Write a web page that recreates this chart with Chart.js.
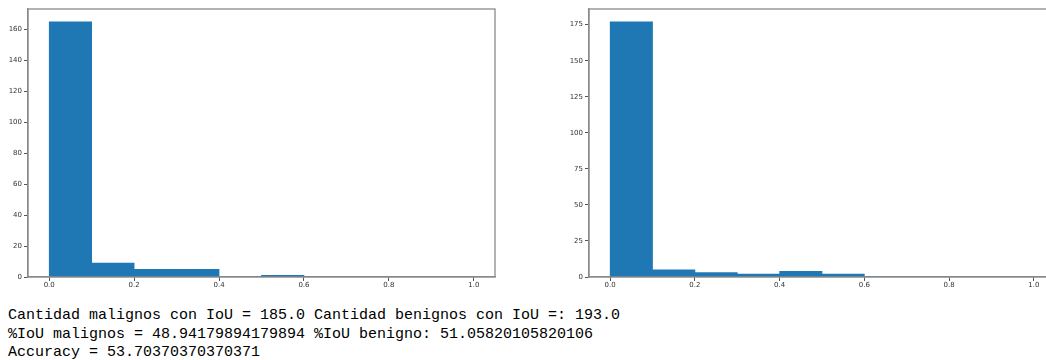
<!DOCTYPE html>
<html>
<head>
<meta charset="utf-8">
<script src="https://cdn.jsdelivr.net/npm/chart.js@4.4.1/dist/chart.umd.min.js"></script>
<style>
  html, body { margin: 0; padding: 0; background: #fff; width: 1046px; height: 360px; overflow: hidden; }
  #wrap { position: relative; width: 1046px; height: 360px; overflow: hidden; }
  canvas { position: absolute; top: 0; }
  #c1 { left: 0; }
  #c2 { left: 561px; }
  #out {
    position: absolute; left: 8px; top: 307px;
    font-family: "Liberation Mono", "DejaVu Sans Mono", monospace;
    font-size: 15px; line-height: 18.5px; color: #000; white-space: pre;
  }
</style>
</head>
<body>
<div id="wrap">
  <canvas id="c1" width="500" height="290"></canvas>
  <canvas id="c2" width="499" height="290"></canvas>
  <div id="out"></div>
</div>
<script>
// Histogram bins: lower edges, each 0.1 wide, covering IoU 0..1
const binEdges = [0.0, 0.1, 0.2, 0.3, 0.4, 0.5, 0.6, 0.7, 0.8, 0.9];
const binWidth = 0.1;

// Counts per bin
const malignosCounts = [165, 9, 5, 5, 0, 1, 0, 0, 0, 0];
const benignosCounts = [177, 5, 3, 2, 4, 2, 0, 0, 0, 0];

// Tick labels
const xTickValues = [0.0, 0.2, 0.4, 0.6, 0.8, 1.0];
const yTicksMalignos = [0, 20, 40, 60, 80, 100, 120, 140, 160];
const yTicksBenignos = [0, 25, 50, 75, 100, 125, 150, 175];

// Printed summary lines
const summaryLines = [
  "Cantidad malignos con IoU = 185.0 Cantidad benignos con IoU =: 193.0",
  "%IoU malignos = 48.94179894179894 %IoU benigno: 51.05820105820106",
  "Accuracy = 53.70370370370371"
];

document.getElementById('out').textContent = summaryLines.join('\n');

const barColor = '#1f77b4';
const spineColor = '#8a8a8a';
const tickFont = { family: 'DejaVu Sans', size: 7 };

// Draws the closed box around the plotting area
const framePlugin = {
  id: 'frame',
  afterDraw(chart) {
    const { ctx, chartArea: a } = chart;
    ctx.save();
    ctx.strokeStyle = spineColor;
    ctx.lineWidth = 1.3;
    ctx.strokeRect(a.left, a.top, a.right - a.left, a.bottom - a.top);
    ctx.restore();
  }
};

function makeHist(canvasId, counts, yTicks) {
  const peak = Math.max(...counts);
  const data = binEdges.map((e, i) => ({ x: e + binWidth / 2, y: counts[i] }));
  return new Chart(document.getElementById(canvasId), {
    type: 'bar',
    data: {
      datasets: [{
        data,
        backgroundColor: barColor,
        borderWidth: 0,
        barPercentage: 1.0,
        categoryPercentage: 1.0
      }]
    },
    plugins: [framePlugin],
    options: {
      responsive: false,
      animation: false,
      devicePixelRatio: 1,
      layout: { padding: { top: 9, right: 5, left: 0, bottom: 0 } },
      plugins: { legend: { display: false }, tooltip: { enabled: false } },
      scales: {
        x: {
          type: 'linear',
          offset: false,
          min: -0.05,
          max: 1.05,
          afterBuildTicks: s => { s.ticks = xTickValues.map(v => ({ value: v })); },
          afterFit: s => { s.height = 13; },
          ticks: {
            font: tickFont, color: '#333', padding: 0, maxRotation: 0, autoSkip: false,
            callback: v => Number(v).toFixed(1)
          },
          grid: { display: true, offset: false, drawOnChartArea: false, drawTicks: true, tickLength: 4, color: '#555' },
          border: { display: true, color: spineColor, width: 1.3 }
        },
        y: {
          min: 0,
          max: peak * 1.05,
          afterBuildTicks: s => { s.ticks = yTicks.map(v => ({ value: v })); },
          afterFit: s => { s.width = 28; },
          ticks: { font: tickFont, color: '#333', padding: 2, autoSkip: false },
          grid: { display: true, offset: false, drawOnChartArea: false, drawTicks: true, tickLength: 4, color: '#555' },
          border: { display: true, color: spineColor, width: 1.3 }
        }
      }
    }
  });
}

makeHist('c1', malignosCounts, yTicksMalignos);
makeHist('c2', benignosCounts, yTicksBenignos);
</script>
</body>
</html>
